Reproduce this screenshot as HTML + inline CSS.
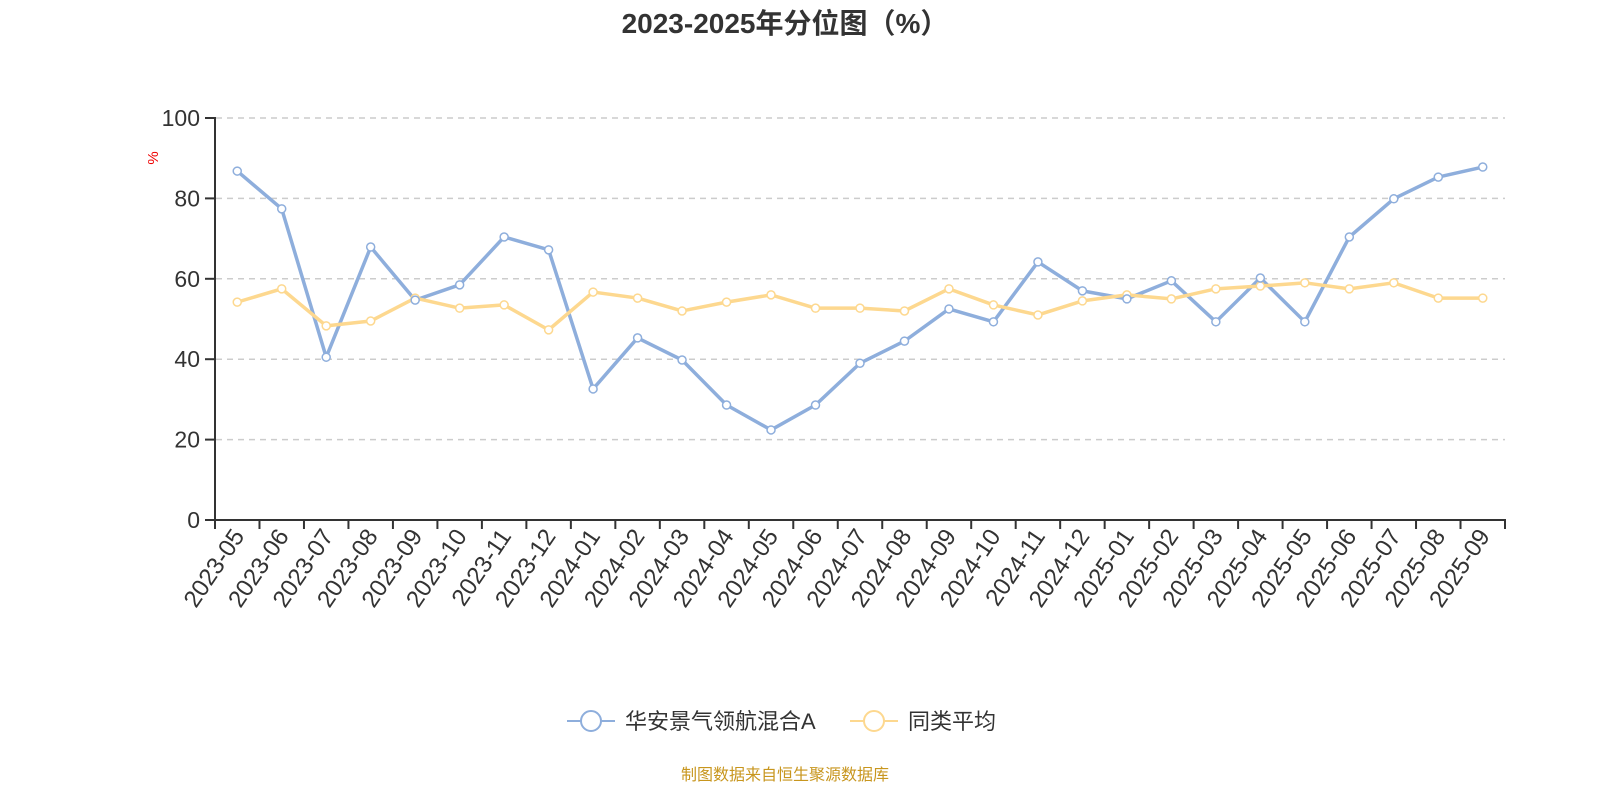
<!DOCTYPE html>
<html><head><meta charset="utf-8"><style>
body{margin:0;background:#fff;}
svg text{font-family:"Liberation Sans","Noto Sans CJK SC",sans-serif;}
</style></head><body>
<svg id="s" width="1600" height="800" xmlns="http://www.w3.org/2000/svg">
<text x="785" y="33" text-anchor="middle" font-size="28" font-weight="bold" fill="#333">2023-2025年分位图（%）</text>
<text transform="translate(158,158) rotate(-90)" text-anchor="middle" font-size="15" fill="#e00">%</text>
<g id="grid"></g>
<line x1="215" y1="117" x2="215" y2="521" stroke="#333" stroke-width="2"/>
<line x1="214" y1="520" x2="1506" y2="520" stroke="#333" stroke-width="2"/>
<g id="ticks"></g>
<polyline id="b" fill="none" stroke="#8eaedc" stroke-width="3.5" stroke-linejoin="round"/>
<polyline id="y" fill="none" stroke="#fdd88f" stroke-width="3.5" stroke-linejoin="round"/>
<g id="pts"></g>
<line x1="567" y1="721" x2="615" y2="721" stroke="#8eaedc" stroke-width="2"/>
<circle cx="591" cy="721" r="10" fill="#fff" stroke="#8eaedc" stroke-width="2"/>
<text x="625" y="729" font-size="22" fill="#333">华安景气领航混合A</text>
<line x1="850" y1="721" x2="898" y2="721" stroke="#fdd88f" stroke-width="2"/>
<circle cx="874" cy="721" r="10" fill="#fff" stroke="#fdd88f" stroke-width="2"/>
<text x="908" y="729" font-size="22" fill="#333">同类平均</text>
<text x="785" y="780" text-anchor="middle" font-size="16" fill="#c8961e">制图数据来自恒生聚源数据库</text>
</svg>
<script>
var ns="http://www.w3.org/2000/svg";
function el(t,a,p,txt){var e=document.createElementNS(ns,t);for(var k in a)e.setAttribute(k,a[k]);if(txt)e.textContent=txt;document.getElementById(p).appendChild(e);}
for(var v=0;v<=100;v+=20){var yy=520-v*4.02;
if(v>0)el('line',{x1:216,x2:1505,y1:yy,y2:yy,stroke:'#ccc','stroke-width':1.5,'stroke-dasharray':'6,5'},'grid');
el('line',{x1:205,x2:215,y1:yy,y2:yy,stroke:'#333','stroke-width':2},'ticks');
el('text',{x:200,y:yy+8,'text-anchor':'end','font-size':23,fill:'#333'},'ticks',String(v));}
var labs=[];for(var yr=2023;yr<=2025;yr++)for(var m=1;m<=12;m++){if(yr==2023&&m<5)continue;if(yr==2025&&m>9)continue;labs.push(yr+'-'+(m<10?'0':'')+m);}
var w=1290/29;
for(var i=0;i<=29;i++){var x=215+w*i;el('line',{x1:x,x2:x,y1:520,y2:529,stroke:'#333','stroke-width':2},'ticks');}
var B=[86.8,77.4,40.5,67.9,54.7,58.5,70.4,67.2,32.6,45.3,39.8,28.6,22.4,28.6,39,44.5,52.5,49.3,64.2,57,55,59.5,49.3,60.2,49.3,70.4,79.9,85.3,87.8];
var Y=[54.2,57.5,48.3,49.5,55.2,52.7,53.5,47.3,56.7,55.2,52,54.2,56,52.7,52.7,52,57.5,53.5,51,54.5,56,55,57.5,58.2,59,57.5,59,55.2,55.2];
var pb=[],py=[];
for(var i=0;i<29;i++){var x=215+w*(i+0.5);pb.push(x+','+(520-B[i]*4.02));py.push(x+','+(520-Y[i]*4.02));
el('text',{transform:'translate('+(x+8)+',536) rotate(-56)','text-anchor':'end','font-size':24,fill:'#333'},'ticks',labs[i]);}
document.getElementById('b').setAttribute('points',pb.join(' '));
document.getElementById('y').setAttribute('points',py.join(' '));
for(var i=0;i<29;i++){var x=215+w*(i+0.5);
el('circle',{cx:x,cy:520-Y[i]*4.02,r:4,fill:'#fff',stroke:'#fdd88f','stroke-width':1.5},'pts');
el('circle',{cx:x,cy:520-B[i]*4.02,r:4,fill:'#fff',stroke:'#8eaedc','stroke-width':1.5},'pts');}
</script>
</body></html>
